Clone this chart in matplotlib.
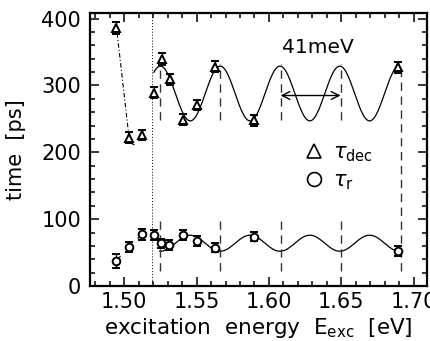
import numpy as np
import matplotlib
matplotlib.use("Agg")
import matplotlib.pyplot as plt
from matplotlib.lines import Line2D

plt.rcParams['font.family'] = ['DejaVu Sans']
plt.rcParams['mathtext.fontset'] = 'dejavusans'

# --- measured decay times (triangles) ---
dec_e = [1.4943, 1.5034, 1.5124, 1.5205, 1.5258, 1.5315, 1.5403, 1.5503, 1.5626, 1.5897, 1.6890]
dec_t = [386, 222, 226, 289, 339, 309, 249, 271, 328, 248, 327]
dec_err = [9, 8, 8, 8, 9, 8, 8, 8, 8, 8, 8]

# --- rise times (circles) ---
r_e = [1.4943, 1.5032, 1.5124, 1.5205, 1.5253, 1.5310, 1.5403, 1.5503, 1.5626, 1.5897, 1.6890]
r_t = [37.5, 58.5, 77.5, 76.5, 64, 61.5, 76.5, 67.5, 57.5, 74, 52.5]
r_err = [10, 8, 8, 8, 7, 7, 7, 7, 7, 7, 8]

# hand-drawn guide through the first decay points
guide_e = [1.4951, 1.5030, 1.5052, 1.5086]
guide_t = [378, 228, 213, 210]

# oscillation fit parameters (period = 41 meV)
period = 0.0413
e0 = 1.525
dec_mean, dec_amp = 288, 41
r_mean, r_amp = 64, 12
dec_fit_range = (1.5205, 1.689)
r_fit_range = (1.5245, 1.689)

# markers of the resonances
res_e = [1.525, 1.5665, 1.608, 1.6495, 1.691]
dotted_e = 1.5195

fig = plt.figure(figsize=(4.31, 3.41), dpi=100)
ax = fig.add_axes([0.2077, 0.1613, 0.7823, 0.7997])

# fit curves
xf = np.linspace(*dec_fit_range, 400)
ax.plot(xf, dec_mean + dec_amp * np.cos(2 * np.pi * (xf - e0) / period), color='black', lw=0.9)
xr = np.linspace(*r_fit_range, 400)
ax.plot(xr, r_mean - r_amp * np.cos(2 * np.pi * (xr - e0) / period), color='black', lw=0.9)

# guide lines
ax.plot(guide_e, guide_t, color='black', lw=0.8, linestyle=(0, (4, 2, 1, 2)))
ax.plot(r_e[:3], r_t[:3], color='black', lw=0.8, linestyle=(0, (6, 8)))

# vertical markers
ax.axvline(dotted_e, color='black', lw=0.7, linestyle=(0, (1, 2)))
dash = (0, (6, 4))
for i, e in enumerate(res_e):
    if i < len(res_e) - 1:
        ax.plot([e, e], [248, 332], color='#333333', lw=1.0, linestyle=dash)
        ax.plot([e, e], [22, 97], color='#333333', lw=1.0, linestyle=dash)
    else:
        ax.plot([e, e], [22, 325], color='#333333', lw=1.0, linestyle=dash)

# data
ax.errorbar(dec_e, dec_t, yerr=dec_err, fmt='^', ms=5.5, mfc='white', mec='black',
            mew=1.4, ecolor='black', elinewidth=1.0, capsize=3, capthick=1.0, zorder=5)
ax.errorbar(r_e, r_t, yerr=r_err, fmt='o', ms=5.5, mfc='white', mec='black',
            mew=1.4, ecolor='black', elinewidth=1.0, capsize=3, capthick=1.0, zorder=5)

# period arrow
ax.annotate('', xy=(res_e[2], 285), xytext=(res_e[3], 285),
            arrowprops=dict(arrowstyle='<->', color='black', lw=1.0,
                            mutation_scale=14, shrinkA=0, shrinkB=0))
ax.text(1.634, 357, '41meV', ha='center', va='center', fontsize=14.5)

# legend
handles = [Line2D([], [], marker='^', ls='', ms=10, mfc='white', mec='black', mew=1.2),
           Line2D([], [], marker='o', ls='', ms=10, mfc='white', mec='black', mew=1.2)]
ax.legend(handles, [r'$\tau_{\rm dec}$', r'$\tau_{\rm r}$'], loc='upper left',
          bbox_to_anchor=(0.61, 0.565), frameon=False, fontsize=15,
          handlelength=0.8, handletextpad=0.5, labelspacing=0.3, borderpad=0)

ax.set_xlim(1.476, 1.709)
ax.set_ylim(0, 408)
ax.set_xticks([1.50, 1.55, 1.60, 1.65, 1.70])
ax.set_xticklabels(['1.50', '1.55', '1.60', '1.65', '1.70'])
ax.set_xticks(np.arange(1.48, 1.71, 0.01), minor=True)
ax.set_yticks([0, 100, 200, 300, 400])
ax.set_yticks(np.arange(0, 401, 20), minor=True)
ax.tick_params(which='both', direction='in', top=True, right=True, labelsize=15, width=1.1)
ax.tick_params(axis='x', pad=4)
ax.tick_params(axis='y', pad=6)
ax.tick_params(which='major', length=6.5)
ax.tick_params(which='minor', length=3.5)
for s in ax.spines.values():
    s.set_linewidth(1.6)

ax.set_xlabel(r'excitation  energy  E$_{\rm exc}$  [eV]', fontsize=15.5, labelpad=3)
ax.set_ylabel('time  [ps]', fontsize=15, labelpad=11)

fig.savefig('out.png', dpi=100)
